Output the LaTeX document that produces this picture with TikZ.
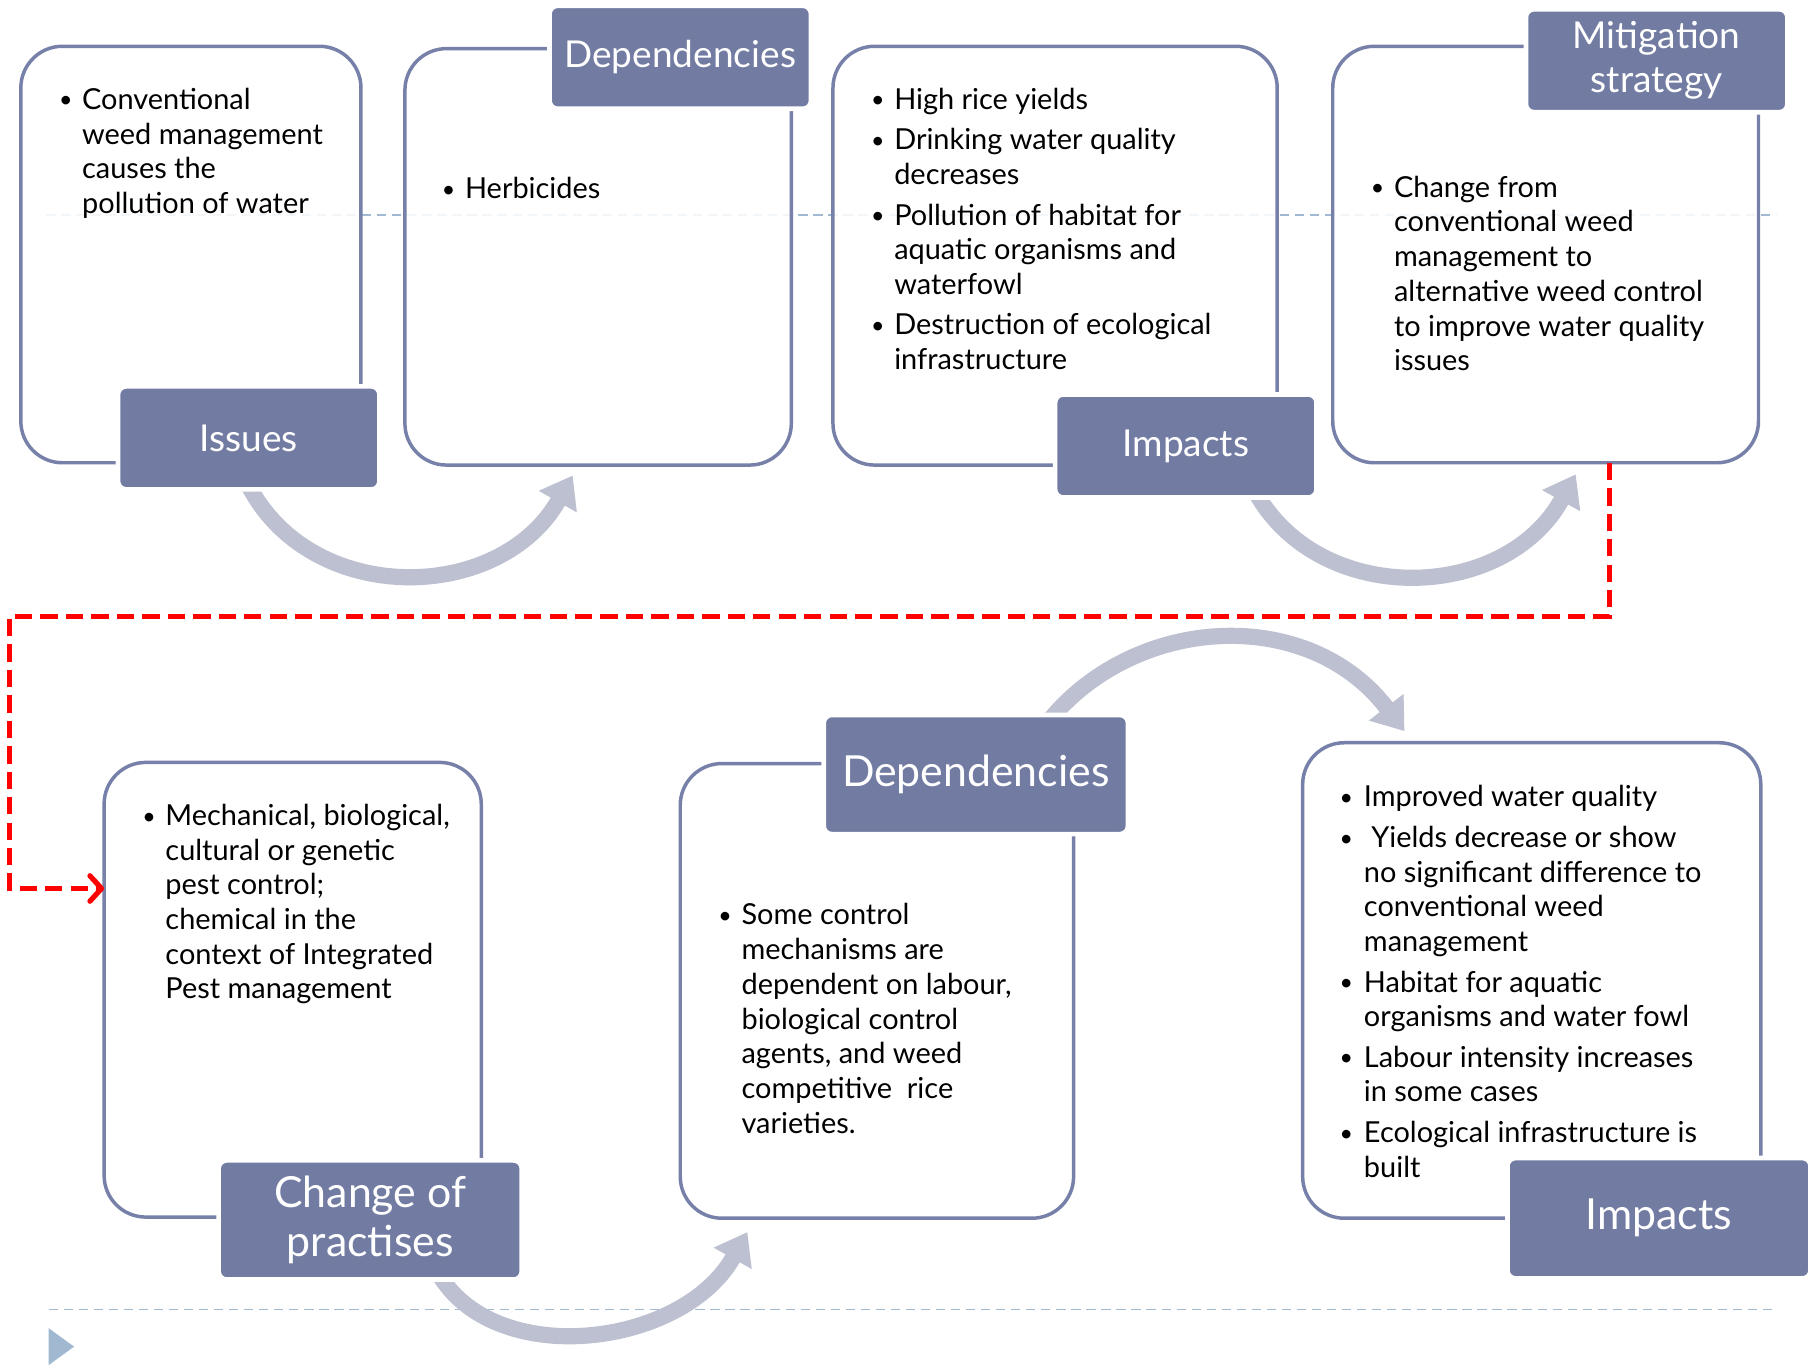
\documentclass[tikz,border=0pt]{standalone}
\usepackage{fontspec}
\setmainfont{Lato}
\usetikzlibrary{arrows.meta}
\definecolor{lblfill}{RGB}{114,123,162}
\definecolor{boxline}{RGB}{118,128,168}
\definecolor{arrgray}{RGB}{188,192,208}
\definecolor{guideblue}{RGB}{160,184,208}
\newcommand{\bodyfont}{\fontsize{25}{30}\selectfont}
\newcommand{\bu}{{\fontsize{20}{30}\selectfont\raisebox{1.2pt}{•}}}
\begin{document}
\begin{tikzpicture}[x=1pt,y=-1pt,
 frame/.style={draw=boxline, line width=3pt, rounded corners=36pt, fill=white, fill opacity=0.88, text opacity=1, inner sep=0pt, outer sep=0pt},
 lbl/.style={fill=lblfill, draw=white, line width=4pt, rounded corners=7pt, text=white, inner sep=0pt, outer sep=0pt, align=center, font=\fontsize{32}{38}\selectfont},
 biglbl/.style={lbl, font=\fontsize{37}{43}\selectfont},
 body/.style={anchor=base west, inner sep=0pt, outer sep=0pt, align=left, font=\bodyfont},
 curvy/.style={draw=arrgray, line width=14pt, -{Triangle[length=26pt,width=36pt]}},
 reddash/.style={draw=red, line width=4.5pt, dash pattern=on 15pt off 7pt, -{Straight Barb[length=10pt,width=22pt,round]}},
 guide/.style={draw=guideblue, line width=1.5pt, dash pattern=on 8pt off 5pt}]
\fill[white] (0,0) rectangle (1568,1181);
\useasboundingbox (0,0) rectangle (1568,1181);
% guides
\coordinate (g1a) at (40,186); \coordinate (g1b) at (1535,186);
\coordinate (g2a) at (42,1132); \coordinate (g2b) at (1535,1132);
\draw[guide] (g1a) -- (g1b);
\draw[guide] (g2a) -- (g2b);
\fill[guideblue] (42,1148) -- (64,1164) -- (42,1180) -- cycle;
% frames
\node[frame, minimum width=294pt, minimum height=360pt] (b1) at (165,220) {};
\node[frame, minimum width=334pt, minimum height=360pt] (b2) at (517,222) {};
\node[frame, minimum width=384pt, minimum height=362pt] (b3) at (912,221) {};
\node[frame, minimum width=368pt, minimum height=360pt] (b4) at (1336,220) {};
\node[frame, minimum width=326pt, minimum height=393pt] (b5) at (253,855.5) {};
\node[frame, minimum width=340pt, minimum height=393pt] (b6) at (758,856.5) {};
\node[frame, minimum width=396pt, minimum height=411pt] (b7) at (1324,847.5) {};
% body texts
\node[body] (t1) at (51,94.5) {\begin{tabular}[t]{@{}p{20pt}@{}l@{}}
 \bu & Conventional\\ & weed management\\ & causes the\\ & pollution of water\end{tabular}};
\node[body] (t2) at (382,172) {\begin{tabular}[t]{@{}p{20pt}@{}l@{}}
 \bu & Herbicides\end{tabular}};
\node[body] (t3) at (753,94.5) {\begin{tabular}[t]{@{}p{20pt}@{}l@{}}
 \bu & High rice yields\\[5pt]
 \bu & Drinking water quality\\ & decreases\\[5pt]
 \bu & Pollution of habitat for\\ & aquatic organisms and\\ & waterfowl\\[5pt]
 \bu & Destruction of ecological\\ & infrastructure\end{tabular}};
\node[body] (t4) at (1185,170.5) {\begin{tabular}[t]{@{}p{20pt}@{}l@{}}
 \bu & Change from\\ & conventional weed\\ & management to\\ & alternative weed control\\ & to improve water quality\\ & issues\end{tabular}};
\node[body] (t5) at (123,713.5) {\begin{tabular}[t]{@{}p{20pt}@{}l@{}}
 \bu & Mechanical, biological,\\ & cultural or genetic\\ & pest control;\\ & chemical in the\\ & context of Integrated\\ & Pest management\end{tabular}};
\node[body] (t6) at (621,799.5) {\begin{tabular}[t]{@{}p{20pt}@{}l@{}}
 \bu & Some control\\ & mechanisms are\\ & dependent on labour,\\ & biological control\\ & agents, and weed\\ & competitive\ \ rice\\ & varieties.\end{tabular}};
\node[body] (t7) at (1158,697.5) {\begin{tabular}[t]{@{}p{21pt}@{}l@{}}
 \bu & Improved water quality\\[5pt]
 \bu & \ Yields decrease or show\\ & no significant difference to\\ & conventional weed\\ & management\\[5pt]
 \bu & Habitat for aquatic\\ & organisms and water fowl\\[5pt]
 \bu & Labour intensity increases\\ & in some cases\\[5pt]
 \bu & Ecological infrastructure is\\ & built\end{tabular}};
% curved arrows
\coordinate (a1s) at (214,418); \coordinate (a1e) at (495,411);
\coordinate (a2s) at (1084,423); \coordinate (a2e) at (1362,410);
\coordinate (a3s) at (906,624); \coordinate (a3e) at (1214,632);
\coordinate (a4s) at (378,1099); \coordinate (a4e) at (646,1065);
\draw[curvy] (a1s) .. controls (268,525) and (432,522) .. (a1e);
\draw[curvy] (a2s) .. controls (1138,525) and (1300,522) .. (a2e);
\draw[curvy] (a3s) .. controls (980,532) and (1130,522) .. (a3e);
\draw[curvy] (a4s) .. controls (426,1185) and (590,1165) .. (a4e);
% red dashed connector
\coordinate (r1) at (1391,533); \coordinate (r2) at (8,533); \coordinate (r3) at (8,768);
\draw[reddash] (b4.south -| r1) -- (r1) -- (r2) -- (r3) -- (r3 -| b5.west);
% labels
\node[lbl, minimum width=226pt, minimum height=89pt] (l1) at (215,378.5) {Issues};
\node[lbl, minimum width=226pt, minimum height=89pt] (l2) at (588,49.5) {Dependencies};
\node[lbl, minimum width=226pt, minimum height=89pt] (l3) at (1025,385.5) {Impacts};
\node[lbl, minimum width=226pt, minimum height=89pt] (l4) at (1432,52.5) {Mitigation\\strategy};
\node[biglbl, minimum width=262pt, minimum height=103pt] (l5) at (320,1054.5) {Change of\\practises};
\node[biglbl, minimum width=263pt, minimum height=103pt] (l6) at (843.5,669.5) {Dependencies};
\node[biglbl, minimum width=262pt, minimum height=104pt] (l7) at (1434,1053) {Impacts};
\end{tikzpicture}
\end{document}
